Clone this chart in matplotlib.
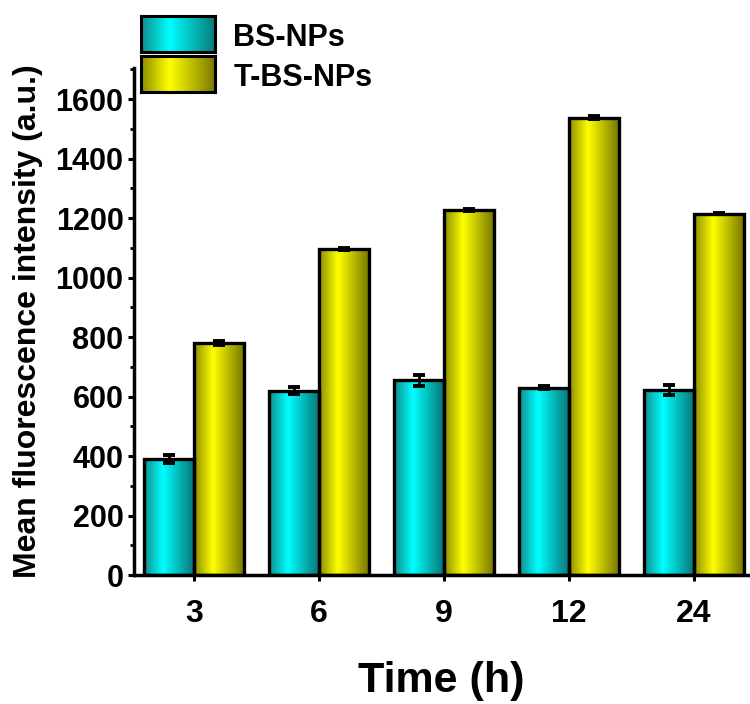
import numpy as np
import matplotlib
matplotlib.use("Agg")
from matplotlib import pyplot as plt
from matplotlib.colors import to_rgb
from matplotlib.ticker import MultipleLocator

plt.rcParams['font.family'] = ['Liberation Sans', 'DejaVu Sans']
plt.rcParams['font.weight'] = 'bold'

times = ["3", "6", "9", "12", "24"]
series = ["BS-NPs", "T-BS-NPs"]
bs_vals = [390, 620, 655, 630, 622]
bs_err = [12, 12, 18, 4, 18]
tbs_vals = [780, 1097, 1228, 1538, 1215]
tbs_err = [8, 4, 3, 6, 2]

# gradient stops: dark edge -> bright -> dark edge
grad_cyan = ["#128c8c", "#00ffff", "#077777"]
grad_yellow = ["#8c8c00", "#ffff00", "#777700"]


def gradient(stops, n=200):
    pos = [0.0, 0.38, 1.0]
    rgb = np.array([to_rgb(c) for c in stops])
    t = np.linspace(0, 1, n)
    img = np.stack([np.interp(t, pos, rgb[:, k]) for k in range(3)], axis=-1)
    return img[np.newaxis, :, :]


def fill_bars(ax, bars, stops):
    img = gradient(stops)
    for b in bars:
        x0, w, h = b.get_x(), b.get_width(), b.get_height()
        im = ax.imshow(img, extent=(x0, x0 + w, 0, h), aspect='auto',
                       zorder=2, interpolation='bilinear')
        im.set_clip_path(b)


fig = plt.figure(figsize=(7.5, 7.04), dpi=100)
ax = fig.add_axes([0.1787, 0.1832, 0.8183, 0.7202])

x = np.arange(len(times))
w = 0.4
b1 = ax.bar(x - w / 2, bs_vals, w, facecolor='none', edgecolor='black',
            linewidth=2.4, zorder=3)
b2 = ax.bar(x + w / 2, tbs_vals, w, facecolor='none', edgecolor='black',
            linewidth=2.4, zorder=3)
fill_bars(ax, b1, grad_cyan)
fill_bars(ax, b2, grad_yellow)

ax.errorbar(x - w / 2, bs_vals, yerr=bs_err, fmt='none', ecolor='black',
            elinewidth=2, capsize=4, capthick=2.8, zorder=4)
ax.errorbar(x + w / 2, tbs_vals, yerr=tbs_err, fmt='none', ecolor='black',
            elinewidth=2, capsize=4, capthick=2.8, zorder=4)

ax.set_xlim(-0.48, 4.43)
ax.set_ylim(0, 1705)
ax.set_xticks(x)
ax.set_xticklabels(times)
ax.yaxis.set_major_locator(MultipleLocator(200))
ax.yaxis.set_minor_locator(MultipleLocator(100))

for s in ['top', 'right']:
    ax.spines[s].set_visible(False)
for s in ['left', 'bottom']:
    ax.spines[s].set_linewidth(2.5)

ax.tick_params(axis='both', which='major', direction='out', length=4.5,
               width=2.2)
ax.tick_params(axis='y', which='major', labelsize=22, pad=3)
ax.tick_params(axis='y', which='minor', direction='out', length=3, width=2)
ax.tick_params(axis='x', which='major', labelsize=23, pad=13)
for lab in ax.get_xticklabels() + ax.get_yticklabels():
    lab.set_fontweight('bold')

ax.set_xlabel("Time (h)", fontsize=31, fontweight='bold', labelpad=23)
ax.set_ylabel("Mean fluorescence intensity (a.u.)", fontsize=23,
              fontweight='bold', labelpad=9)

# legend drawn as gradient swatches
leg_y = [0.926, 0.869]
for name, stops, yb in zip(series, [grad_cyan, grad_yellow], leg_y):
    sw = fig.add_axes([0.188, yb, 0.0987, 0.051])
    sw.imshow(gradient(stops), aspect='auto', extent=(0, 1, 0, 1),
              interpolation='bilinear')
    sw.set_xticks([])
    sw.set_yticks([])
    for s in sw.spines.values():
        s.set_linewidth(2.2)
    fig.text(0.311, yb + 0.0195, name, fontsize=22, fontweight='bold',
             va='center', ha='left')

fig.savefig("out.png", dpi=100)
